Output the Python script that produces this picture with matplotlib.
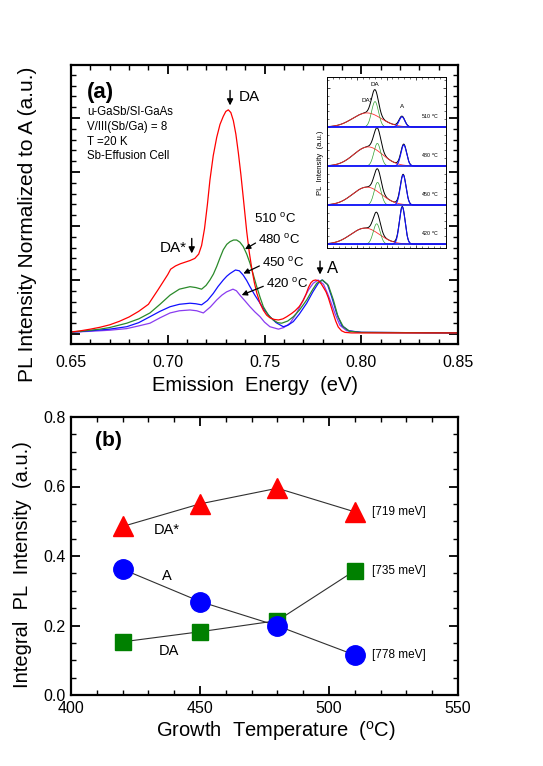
import numpy as np
import matplotlib
matplotlib.use("Agg")
import matplotlib.pyplot as plt
from matplotlib.ticker import MultipleLocator

plt.rcParams['font.family'] = ['Liberation Sans', 'DejaVu Sans']
plt.rcParams['mathtext.fontset'] = 'custom'
plt.rcParams['mathtext.rm'] = 'Liberation Sans'

# ---------------- Panel (a) spectra (normalized to A) ----------------
e_510 = [0.650, 0.655, 0.660, 0.665, 0.670, 0.675, 0.680, 0.685, 0.690, 0.695, 0.700,
         0.7015, 0.7040, 0.7065, 0.7090, 0.7115, 0.7140, 0.7160,
         0.7175, 0.7190, 0.7205, 0.7218, 0.7235, 0.7253, 0.7270, 0.7287, 0.7300, 0.7313,
         0.7326, 0.7339, 0.7352, 0.7365, 0.7378, 0.7391, 0.7408, 0.7421, 0.7434, 0.7447,
         0.746, 0.7477, 0.7494, 0.7511, 0.7528, 0.7550, 0.7572, 0.7595, 0.7615, 0.7640,
         0.7658, 0.7680, 0.770, 0.7715, 0.7727, 0.7740, 0.7752, 0.7765, 0.778, 0.7793,
         0.7805, 0.7818, 0.783, 0.7843, 0.7856, 0.7868, 0.7881, 0.7898, 0.7916, 0.795,
         0.800, 0.850]
i_510 = [0.037, 0.06, 0.09, 0.125, 0.17, 0.235, 0.315, 0.42, 0.55, 0.82, 1.10,
         1.20, 1.26, 1.30, 1.33, 1.36, 1.40, 1.48,
         1.64, 1.95, 2.40, 2.85, 3.30, 3.64, 3.88, 4.03, 4.12, 4.15,
         4.10, 3.95, 3.70, 3.35, 2.95, 2.50, 1.90, 1.52, 1.22, 0.96,
         0.76, 0.57, 0.44, 0.35, 0.30, 0.27, 0.26, 0.28, 0.32, 0.38,
         0.43, 0.51, 0.62, 0.74, 0.86, 0.95, 0.99, 1.00, 0.98, 0.93,
         0.86, 0.78, 0.67, 0.52, 0.37, 0.24, 0.13, 0.06, 0.03, 0.02,
         0.02, 0.02]

e_480 = [0.650, 0.655, 0.660, 0.665, 0.670, 0.6788, 0.685, 0.6908, 0.696, 0.7012, 0.706,
         0.7115, 0.7145, 0.7175, 0.7198, 0.7218, 0.7236, 0.7253, 0.727, 0.7287, 0.7305,
         0.7322, 0.734, 0.7356, 0.7373, 0.739, 0.7408, 0.7425, 0.7442, 0.746, 0.7477,
         0.7494, 0.752, 0.7545, 0.7568, 0.7589, 0.762, 0.7649, 0.768, 0.7718, 0.7745,
         0.777, 0.780, 0.783, 0.7856, 0.788, 0.7907, 0.794, 0.800, 0.850]
i_480 = [0.037, 0.05, 0.07, 0.09, 0.12, 0.20, 0.28, 0.39, 0.55, 0.72, 0.83,
         0.876, 0.86, 0.83, 0.90, 1.00, 1.11, 1.25, 1.41, 1.56, 1.66,
         1.71, 1.74, 1.74, 1.70, 1.62, 1.48, 1.31, 1.10, 0.876, 0.68,
         0.505, 0.35, 0.26, 0.21, 0.20, 0.24, 0.32, 0.44, 0.63, 0.80,
         0.94, 1.00, 0.90, 0.63, 0.32, 0.135, 0.05, 0.03, 0.02]

e_450 = [0.650, 0.655, 0.660, 0.665, 0.670, 0.6788, 0.685, 0.6908, 0.696, 0.7012, 0.706,
         0.7115, 0.7145, 0.7175, 0.7205, 0.7235, 0.726, 0.7287, 0.7305, 0.7322, 0.735,
         0.737, 0.739, 0.7408, 0.7425, 0.745, 0.7477, 0.750, 0.7528, 0.756, 0.7597,
         0.762, 0.7649, 0.768, 0.7718, 0.775, 0.7778, 0.7797, 0.7825, 0.7847, 0.7873,
         0.7899, 0.7935, 0.800, 0.850]
i_450 = [0.037, 0.045, 0.06, 0.075, 0.09, 0.135, 0.21, 0.32, 0.42, 0.505, 0.55,
         0.57, 0.56, 0.54, 0.62, 0.75, 0.88, 1.00, 1.07, 1.12, 1.185,
         1.17, 1.09, 0.99, 0.876, 0.72, 0.57, 0.44, 0.32, 0.21, 0.135,
         0.16, 0.23, 0.37, 0.57, 0.78, 0.94, 1.00, 0.92, 0.69, 0.38,
         0.16, 0.06, 0.03, 0.02]

e_420 = [0.650, 0.655, 0.660, 0.665, 0.670, 0.6788, 0.685, 0.6908, 0.696, 0.7012, 0.706,
         0.7115, 0.715, 0.7184, 0.722, 0.7253, 0.728, 0.7304, 0.7337, 0.7355, 0.7373,
         0.740, 0.7425, 0.745, 0.7477, 0.750, 0.7528, 0.7572, 0.760, 0.7632, 0.7665,
         0.770, 0.7728, 0.7752, 0.7777, 0.7805, 0.7826, 0.7845, 0.7864, 0.789, 0.7925,
         0.800, 0.850]
i_420 = [0.037, 0.042, 0.05, 0.06, 0.07, 0.10, 0.15, 0.20, 0.30, 0.39, 0.43,
         0.445, 0.43, 0.39, 0.50, 0.63, 0.72, 0.78, 0.83, 0.80, 0.72,
         0.61, 0.505, 0.41, 0.32, 0.22, 0.135, 0.09, 0.12, 0.20, 0.38,
         0.63, 0.82, 0.94, 1.00, 0.92, 0.75, 0.57, 0.38, 0.16, 0.06,
         0.03, 0.02]

# ---------------- Inset: fit components (420, 450, 480, 510 from bottom) ----------------
inset_temps = ['420', '450', '480', '510']
dastar_center = [0.714, 0.717, 0.719, 0.717]
dastar_sigma = [0.024, 0.024, 0.024, 0.024]
dastar_amp = [0.41, 0.46, 0.49, 0.36]
da_center = [0.7335, 0.735, 0.7346, 0.7307]
da_sigma = [0.0058, 0.0058, 0.0058, 0.0058]
da_amp = [0.52, 0.58, 0.58, 0.65]
a_center = [0.7765, 0.778, 0.779, 0.776]
a_sigma = [0.0048, 0.0048, 0.0048, 0.0048]
a_amp = [0.95, 0.77, 0.54, 0.26]

# ---------------- Panel (b) ----------------
growth_T = [420, 450, 480, 510]
int_dastar = [0.485, 0.550, 0.595, 0.527]
int_a = [0.362, 0.269, 0.199, 0.115]
int_da = [0.153, 0.182, 0.214, 0.358]

W, H = 543, 766
fig = plt.figure(figsize=(W / 100, H / 100), dpi=100)

def frac(l, t, r, b):
    return [l / W, 1 - b / H, (r - l) / W, (b - t) / H]

def style_axes(ax, lw=1.6):
    for s in ax.spines.values():
        s.set_linewidth(lw)
    ax.tick_params(which='both', direction='in', top=True, right=True)
    ax.tick_params(which='major', length=6.5, width=1.3)
    ax.tick_params(which='minor', length=3.5, width=1.0)

# ----- panel (a)
ax = fig.add_axes(frac(71, 65, 458, 344))
style_axes(ax)
cols = {'510': '#ff0000', '480': '#2a8a2a', '450': '#1010ff', '420': '#8a3cf0'}
ax.plot(e_420, i_420, color=cols['420'], lw=0.9)
ax.plot(e_450, i_450, color=cols['450'], lw=0.9)
ax.plot(e_480, i_480, color=cols['480'], lw=0.9)
ax.plot(e_510, i_510, color=cols['510'], lw=0.9)
ax.set_xlim(0.65, 0.85)
ax.set_ylim(-0.185, 4.98)
ax.xaxis.set_major_locator(MultipleLocator(0.05))
ax.xaxis.set_minor_locator(MultipleLocator(0.01))
ax.yaxis.set_major_locator(MultipleLocator(1))
ax.yaxis.set_minor_locator(MultipleLocator(0.2))
ax.set_yticklabels([])
ax.set_xticks([0.65, 0.70, 0.75, 0.80, 0.85])
ax.set_xticklabels(['0.65', '0.70', '0.75', '0.80', '0.85'], fontsize=11.5)
ax.tick_params(axis='x', pad=8)
ax.set_xlabel('Emission  Energy  (eV)', fontsize=14.5, labelpad=3)
ax.xaxis.set_label_coords(0.476, -0.115)
ax.set_ylabel('PL Intensity Normalized to A (a.u.)', fontsize=15)
ax.yaxis.set_label_coords(-0.088, 0.43)

ax.text(0.075, 0.903, '(a)', transform=ax.transAxes, fontsize=16, fontweight='bold',
        ha='center', va='center')
ax.text(0.041, 0.852, 'u-GaSb/SI-GaAs\nV/III(Sb/Ga) = 8\nT =20 K\nSb-Effusion Cell',
        transform=ax.transAxes, fontsize=8.3, ha='left', va='top', linespacing=1.3)

arrow_kw = dict(arrowstyle='-|>', color='black', lw=1.0, mutation_scale=9)
ax.annotate('', xy=(0.7322, 4.18), xytext=(0.7322, 4.56), arrowprops=arrow_kw)
ax.text(0.7365, 4.39, 'DA', fontsize=11, ha='left', va='center')
ax.annotate('', xy=(0.7124, 1.44), xytext=(0.7124, 1.82), arrowprops=arrow_kw)
ax.text(0.7100, 1.60, 'DA*', fontsize=11, ha='right', va='center')
ax.annotate('', xy=(0.7787, 1.05), xytext=(0.7787, 1.40), arrowprops=arrow_kw)
ax.text(0.7825, 1.22, 'A', fontsize=12, ha='left', va='center')

ax.text(0.7445, 2.13, '510 $^\\mathrm{o}$C', fontsize=9.5, ha='left', va='center')
lab_pos = {'480': (0.7468, 1.74, 0.7399, 1.57), '450': (0.7488, 1.31, 0.7391, 1.12),
           '420': (0.7508, 0.93, 0.7382, 0.72)}
for t in ['480', '450', '420']:
    tx, ty, hx, hy = lab_pos[t]
    ax.annotate(t + ' $^\\mathrm{o}$C', xy=(hx, hy), xytext=(tx, ty), fontsize=9.5,
                ha='left', va='center',
                arrowprops=dict(arrowstyle='-|>', color='black', lw=0.9,
                                mutation_scale=8, shrinkA=0, shrinkB=0,
                                relpos=(0, 0.4)))

# ----- inset
axi = fig.add_axes(frac(327, 77, 446, 248))
for s in axi.spines.values():
    s.set_linewidth(0.7)
axi.tick_params(which='both', direction='in', top=True, right=True, labelleft=False,
                labelbottom=False)
axi.tick_params(which='major', length=2.5, width=0.5)
axi.tick_params(which='minor', length=1.2, width=0.4)
axi.xaxis.set_major_locator(MultipleLocator(0.05))
axi.xaxis.set_minor_locator(MultipleLocator(0.01))
axi.yaxis.set_major_locator(MultipleLocator(1))
axi.yaxis.set_minor_locator(MultipleLocator(0.2))
ex = np.linspace(0.65, 0.85, 500)
for k, t in enumerate(inset_temps):
    g1 = dastar_amp[k] * np.exp(-0.5 * ((ex - dastar_center[k]) / dastar_sigma[k]) ** 2)
    g2 = da_amp[k] * np.exp(-0.5 * ((ex - da_center[k]) / da_sigma[k]) ** 2)
    g3 = a_amp[k] * np.exp(-0.5 * ((ex - a_center[k]) / a_sigma[k]) ** 2)
    axi.plot(ex, k + g1 + g2 + g3, color='black', lw=0.7)
    axi.plot(ex, k + g1, color='#ff3030', lw=0.6)
    axi.plot(ex, k + g2, color='#30a030', lw=0.5)
    axi.plot(ex, k + g3, color='#1010ff', lw=0.8)
    axi.axhline(k, color='#1010ff', lw=1.1)
    axi.text(0.838, k + 0.15, t + ' $^\\mathrm{o}$C', fontsize=3.8, ha='right', va='bottom')
axi.text(0.717, 3.62, 'DA*', fontsize=4.5, ha='center', va='bottom')
axi.text(0.731, 4.02, 'DA', fontsize=4.5, ha='center', va='bottom')
axi.text(0.776, 3.45, 'A', fontsize=4.5, ha='center', va='bottom')
axi.set_xlim(0.65, 0.85)
axi.set_ylim(-0.1, 4.28)
axi.set_ylabel('PL  Intensity  (a.u.)', fontsize=5.5, labelpad=2)

# ----- panel (b)
bx = fig.add_axes(frac(71, 417, 458, 695))
style_axes(bx)
bx.plot(growth_T, int_dastar, color='#303030', lw=0.8, zorder=1)
bx.plot(growth_T, int_a, color='#303030', lw=0.8, zorder=1)
bx.plot(growth_T, int_da, color='#303030', lw=0.8, zorder=1)
bx.plot(growth_T, int_dastar, ls='none', marker='^', ms=15, color='#ff0000', zorder=3)
bx.plot(growth_T, int_da, ls='none', marker='s', ms=11.5, color='#008000', zorder=3)
bx.plot(growth_T, int_a, ls='none', marker='o', ms=14, color='#0000ff', zorder=4)
bx.set_xlim(400, 550)
bx.set_ylim(0, 0.8)
bx.xaxis.set_major_locator(MultipleLocator(50))
bx.xaxis.set_minor_locator(MultipleLocator(10))
bx.yaxis.set_major_locator(MultipleLocator(0.2))
bx.yaxis.set_minor_locator(MultipleLocator(0.05))
bx.set_xticks([400, 450, 500, 550])
bx.set_xticklabels(['400', '450', '500', '550'], fontsize=11.5)
bx.set_yticks([0, 0.2, 0.4, 0.6, 0.8])
bx.set_yticklabels(['0.0', '0.2', '0.4', '0.6', '0.8'], fontsize=11.5)
bx.tick_params(axis='x', pad=4)
bx.tick_params(axis='y', pad=4)
bx.set_xlabel('Growth  Temperature  ($^\\mathrm{o}$C)', fontsize=14.5)
bx.xaxis.set_label_coords(0.53, -0.085)
bx.set_ylabel('Integral  PL  Intensity  (a.u.)', fontsize=14.5)
bx.yaxis.set_label_coords(-0.1, 0.47)
bx.text(0.096, 0.914, '(b)', transform=bx.transAxes, fontsize=15, fontweight='bold',
        ha='center', va='center')
bx.text(437.2, 0.475, 'DA*', fontsize=10.5, ha='center', va='center')
bx.text(437.2, 0.342, 'A', fontsize=10.5, ha='center', va='center')
bx.text(438.0, 0.127, 'DA', fontsize=10.5, ha='center', va='center')
for lbl, yv in [('[719 meV]', 0.527), ('[735 meV]', 0.358), ('[778 meV]', 0.115)]:
    bx.text(516.7, yv, lbl, fontsize=8.5, ha='left', va='center')

fig.savefig('out.png', dpi=100)
